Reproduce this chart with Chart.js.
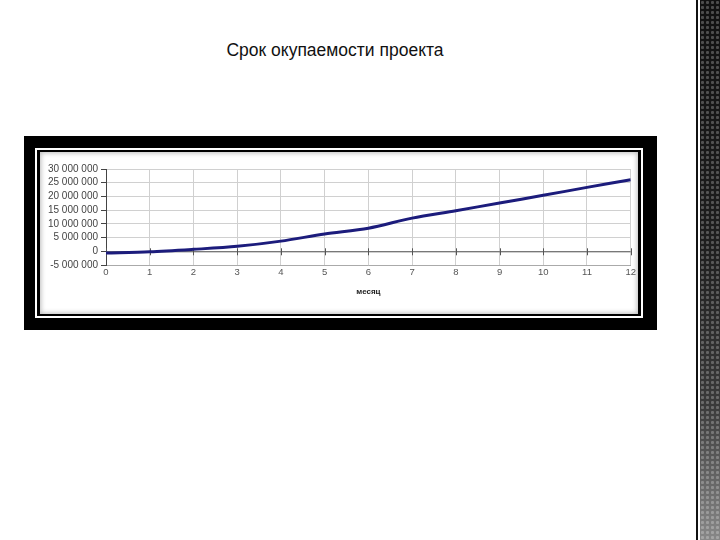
<!DOCTYPE html>
<html>
<head>
<meta charset="utf-8">
<script src="https://cdn.jsdelivr.net/npm/chart.js@4"></script>
<style>
    body { margin: 0; background: #fff; width: 720px; height: 540px; overflow: hidden; position: relative; font-family: "Liberation Sans", Arial, sans-serif; }
    #titre { position: absolute; left: 0; width: 670px; top: 40px; text-align: center; font-size: 17.5px; color: #111; }
    #cadre { position: absolute; left: 24px; top: 136px; width: 633px; height: 194px; background: #000; }
    #filet { position: absolute; left: 11px; top: 12px; width: 608px; height: 170px; border: 2px solid #fff; box-sizing: border-box; }
    #panneau { position: absolute; left: 16px; top: 16px; width: 598px; height: 162px; background: #fff; box-shadow: inset 0 0 5px 1px #bbb; }
    #bande { position: absolute; left: 696px; top: 0; width: 2px; height: 540px; background: #111; }
    #motif { position: absolute; left: 700px; top: 0; width: 20px; height: 540px;
        background: radial-gradient(circle, rgba(255,255,255,0.25) 1.2px, transparent 2px) 0 0 / 5px 5px,
                    linear-gradient(#111, #1e1e1e 45%, #3a3a3a 75%, #888); }
</style>
</head>
<body>
<div id="titre">Срок окупаемости проекта</div>
<div id="cadre">
    <div id="filet"></div>
    <div id="panneau"><canvas id="myChart" width="598" height="162"></canvas></div>
</div>
<div id="bande"></div>
<div id="motif"></div>
<script>
// Données
var mois = [0, 1, 2, 3, 4, 5, 6, 7, 8, 9, 10, 11, 12];
var cumul = [-600000, -200000, 700000, 1800000, 3700000, 6300000, 8400000, 12100000, 14800000, 17600000, 20400000, 23300000, 26100000];
var ticksY = [-5000000, 0, 5000000, 10000000, 15000000, 20000000, 25000000, 30000000];

// Format avec espaces entre les milliers
function formatNombre(v) {
    return v.toString().replace(/\B(?=(\d{3})+(?!\d))/g, ' ');
}

// Axe horizontal sur la ligne zéro avec petites graduations
var axeZero = {
    id: 'axeZero',
    beforeDatasetsDraw: function(chart) {
        var ctx = chart.ctx;
        var x = chart.scales.x;
        var y0 = chart.scales.y.getPixelForValue(0);
        ctx.save();
        ctx.strokeStyle = '#555';
        ctx.lineWidth = 1;
        ctx.beginPath();
        ctx.moveTo(chart.chartArea.left, y0 + 0.5);
        ctx.lineTo(chart.chartArea.right, y0 + 0.5);
        mois.forEach(function(m) {
            var px = Math.round(x.getPixelForValue(m)) + 0.5;
            ctx.moveTo(px, y0 - 3);
            ctx.lineTo(px, y0 + 4);
        });
        ctx.stroke();
        ctx.restore();
    }
};

var ctx = document.getElementById('myChart').getContext('2d');
var myChart = new Chart(ctx, {
    type: 'line',
    data: {
        datasets: [{
            data: mois.map(function(m, i) { return { x: m, y: cumul[i] }; }),
            borderColor: '#1c1c7c',
            borderWidth: 3,
            pointRadius: 0,
            tension: 0.3,
            fill: false
        }]
    },
    options: {
        responsive: false,
        animation: false,
        layout: { padding: { top: 17, right: 3, left: 0, bottom: 0 } },
        plugins: { legend: { display: false }, tooltip: { enabled: false } },
        scales: {
            x: {
                type: 'linear',
                min: 0,
                max: 12,
                afterFit: function(scale) { scale.height = 49; },
                grid: { color: '#d0d0d0', drawTicks: false },
                border: { color: '#aaa' },
                ticks: { stepSize: 1, color: '#555', padding: 2, font: { family: 'Liberation Sans', size: 9.5 } },
                title: { display: true, text: 'месяц', color: '#222', padding: { top: 0, bottom: 17 }, font: { family: 'Liberation Sans', size: 8, weight: 'bold' } }
            },
            y: {
                min: -5000000,
                max: 30000000,
                afterFit: function(scale) { scale.width = 66; },
                afterBuildTicks: function(scale) { scale.ticks = ticksY.map(function(v) { return { value: v }; }); },
                grid: { color: '#d0d0d0', tickColor: '#444', tickLength: 5 },
                border: { color: '#444' },
                ticks: { autoSkip: false, color: '#444', padding: 3, font: { family: 'Liberation Sans', size: 10 }, callback: function(v) { return formatNombre(v); } }
            }
        }
    },
    plugins: [axeZero]
});
</script>
</body>
</html>
